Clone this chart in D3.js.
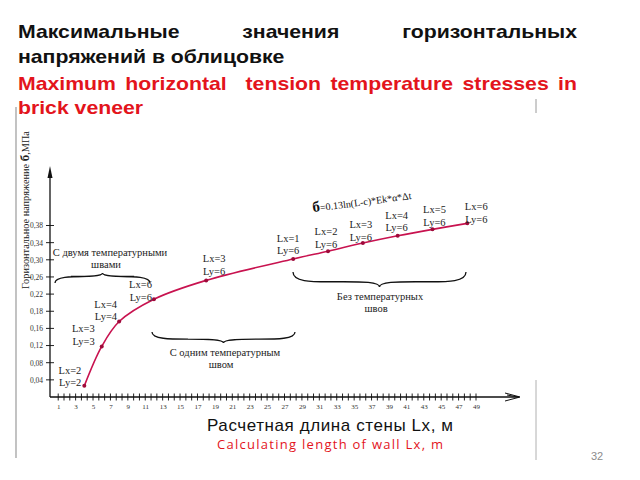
<!DOCTYPE html>
<html><head><meta charset="utf-8">
<script src="https://cdn.jsdelivr.net/npm/d3@7/dist/d3.min.js"></script>
<style>html,body{margin:0;padding:0;background:#fff}svg{display:block}</style>
</head><body>
<svg id="c" width="640" height="480"></svg>
<script>
// ---- data ----
const titleRu = ["Максимальные значения горизонтальных", "напряжений в облицовке"];
const titleEn = ["Maximum horizontal  tension temperature stresses in", "brick veneer"];
const xLabelRu = "Расчетная длина стены Lx, м";
const xLabelEn = "Calculating length of wall Lx, m";
const yLabel = "Горизонтальное напряжение ";
const yTickLabels = [0.04, 0.08, 0.12, 0.16, 0.18, 0.22, 0.26, 0.30, 0.34, 0.38];
const xTickLabels = d3.range(1, 50, 2);
const lengthL = [4, 6, 8, 12, 18, 28, 32, 36, 40, 44, 48];
const stress = [0.026, 0.118, 0.168, 0.208, 0.252, 0.302, 0.320, 0.339, 0.356, 0.371, 0.385];
const lx = [2, 3, 4, 6, 3, 1, 2, 3, 4, 5, 6];
const ly = [2, 3, 4, 6, 6, 6, 6, 6, 6, 6, 6];
const braceTexts = [["С двумя температурными", "швами"], ["С одним температурным", "швом"], ["Без температурных", "швов"]];
const formula = "=0.13ln(L-c)*Ek*α*Δt";
const pageNo = "32";

// ---- layout ----
const svg = d3.select("#c");
const serif = "'Liberation Serif','Times New Roman',serif";
const sans = "'Liberation Sans',Arial,sans-serif";
const x0 = 50, y0 = 397, step = 17.15;
const x = d3.scaleLinear().domain([0, 49]).range([49.5, 476]);
const y = d3.scaleLinear()
  .domain([0].concat(yTickLabels))
  .range(d3.range(0, 11).map(k => y0 - k * step));

// page borders of embedded image
svg.append("line").attr("x1",16).attr("x2",16).attr("y1",107).attr("y2",458).attr("stroke","#9a9a9a").attr("stroke-width",1.2);
svg.append("line").attr("x1",536).attr("x2",536).attr("y1",380).attr("y2",460).attr("stroke","#b0b0b0").attr("stroke-width",1);
svg.append("line").attr("x1",536).attr("x2",536).attr("y1",99).attr("y2",113).attr("stroke","#9a9a9a").attr("stroke-width",1);

// title block (font horizontally widened to match reference)
const sx = 1.18, tl = 18, tr = 577;
const tg = svg.append("g").attr("transform", `translate(${tl},0) scale(${sx},1)`);
function addWord(w, xl, yb, color) {
  return tg.append("text").attr("x", xl).attr("y", yb).attr("font-family", sans).attr("font-weight", "bold")
    .attr("font-size", 18).attr("fill", color).text(w);
}
function justified(str, yb, color) {
  const words = str.split(" ");
  const ts = words.map(w => addWord(w, 0, yb, color));
  const widths = ts.map(t => t.text() ? t.node().getComputedTextLength() : 0);
  const span = (tr - tl) / sx;
  const gap = (span - d3.sum(widths)) / (words.length - 1);
  let cx = 0;
  ts.forEach((t, i) => { t.attr("x", cx); cx += widths[i] + gap; });
}
justified(titleRu[0], 38, "#111");
addWord(titleRu[1], 0, 63, "#111");
justified(titleEn[0], 90, "#e3141c");
addWord(titleEn[1], 0, 114, "#e3141c");

// axes
const g = svg.append("g");
const yAxis = d3.axisLeft(y).tickValues(yTickLabels).tickSize(0).tickPadding(7)
  .tickFormat(d => d3.format(".2f")(d).replace(".", ","));
const ya = g.append("g").attr("transform", `translate(${x0},0)`).call(yAxis);
ya.select(".domain").remove();
ya.selectAll("text").attr("font-family", serif).attr("font-size", 7.5).attr("fill", "#333");
g.selectAll(".ytk").data(yTickLabels).join("line").attr("class","ytk")
  .attr("x1", x0 - 4).attr("x2", x0 + 4).attr("y1", d => y(d)).attr("y2", d => y(d))
  .attr("stroke", "#222").attr("stroke-width", 1);

const xa = g.append("g").attr("transform", `translate(0,${y0})`)
  .call(d3.axisBottom(x).tickValues(xTickLabels).tickSize(0).tickPadding(7).tickFormat(d3.format("d")));
xa.select(".domain").remove();
xa.selectAll("text").attr("font-family", serif).attr("font-size", 7).attr("fill", "#333");
const minor = d3.range(0, 73).map(k => 1 + k * 2 / 3);
g.selectAll(".xtk").data(minor).join("line").attr("class","xtk")
  .attr("x1", d => x(d)).attr("x2", d => x(d)).attr("y1", y0 - 3.5).attr("y2", y0 + 3.5)
  .attr("stroke", "#222").attr("stroke-width", 1);

// axis lines with arrows
g.append("line").attr("x1", x0).attr("x2", x0).attr("y1", y0).attr("y2", 172).attr("stroke", "#111").attr("stroke-width", 1.3);
g.append("path").attr("d", `M${x0},166 L${x0-2.5},178 L${x0+2.5},178 Z`).attr("fill", "#111");
g.append("line").attr("x1", x0).attr("x2", 519).attr("y1", y0).attr("y2", y0).attr("stroke", "#111").attr("stroke-width", 1.3);
g.append("path").attr("d", `M505,${y0-4} L520,${y0} L505,${y0+4} M507,${y0-2} L518,${y0}`).attr("fill", "none").attr("stroke", "#111").attr("stroke-width", 1);

// y label (rotated)
const yl = svg.append("text").attr("transform", "translate(29,210) rotate(-90)").attr("text-anchor", "middle")
  .attr("font-family", serif).attr("font-size", 10.3).attr("fill", "#222");
yl.append("tspan").text(yLabel);
yl.append("tspan").attr("font-weight", "bold").attr("font-size", 13).text("б");
yl.append("tspan").text(",МПа");

// curve
const pts = lengthL.map((d, i) => [x(d), y(stress[i])]);
svg.append("path").attr("d", d3.line().curve(d3.curveCatmullRom.alpha(0.5))(pts))
  .attr("fill", "none").attr("stroke", "#c8124f").attr("stroke-width", 1.6);
svg.selectAll(".pt").data(pts).join("circle").attr("class", "pt")
  .attr("cx", d => d[0]).attr("cy", d => d[1]).attr("r", 2).attr("fill", "#9e0a3a");

// point labels: [dx, dy, anchor]
const labelLayout = [[-3,-12,"end"],[-7,-14,"end"],[-2,-14,"end"],[-2,-11,"end"],
  [8,-18,"middle"],[-5,-17,"middle"],[-2,-16,"middle"],[-2,-15,"middle"],[-1,-17,"middle"],[2,-16,"middle"],[9,-13,"middle"]];
pts.forEach((p, i) => {
  const [dx, dy, an] = labelLayout[i];
  const t = svg.append("text").attr("font-family", serif).attr("font-size", 10.5).attr("fill", "#222").attr("text-anchor", an);
  t.append("tspan").attr("x", p[0] + dx).attr("y", p[1] + dy).text("Lx=" + lx[i]);
  t.append("tspan").attr("x", p[0] + dx).attr("y", p[1] + dy + 12.5).text("Ly=" + ly[i]);
});

// formula
const f = svg.append("text").attr("transform", "translate(313,212) rotate(-7.5)").attr("font-family", serif).attr("fill", "#111");
f.append("tspan").attr("font-size", 15).attr("font-weight", "bold").text("б");
f.append("tspan").attr("font-size", 10).text(formula);

// braces
function brace(x1, x2, yb, h) {
  const xm = (x1 + x2) / 2, w = Math.min(18, (x2 - x1) / 6), hh = h * 0.65;
  return `M${x1},${yb} C${x1},${yb+hh} ${x1+w},${yb+hh} ${x1+2*w},${yb+hh} L${xm-2*w},${yb+hh} C${xm-w},${yb+hh} ${xm},${yb+hh} ${xm},${yb+h}` +
         ` C${xm},${yb+hh} ${xm+w},${yb+hh} ${xm+2*w},${yb+hh} L${x2-2*w},${yb+hh} C${x2-w},${yb+hh} ${x2},${yb+hh} ${x2},${yb}`;
}
const bstyle = s => s.attr("fill", "none").attr("stroke", "#111").attr("stroke-width", 1.3);
svg.append("path").attr("d", brace(55, 150, 283, -10)).call(bstyle);
svg.append("path").attr("d", brace(152, 295, 332, 11)).call(bstyle);
svg.append("path").attr("d", brace(293, 466, 272, 15)).call(bstyle);

const btxt = (lines, cx, by) => {
  const t = svg.append("text").attr("font-family", serif).attr("font-size", 10.5).attr("fill", "#222").attr("text-anchor", "middle");
  t.append("tspan").attr("x", cx).attr("y", by).text(lines[0]);
  t.append("tspan").attr("x", cx - 4).attr("y", by + 12).text(lines[1]);
};
btxt(braceTexts[0], 110, 256);
btxt(braceTexts[1], 225, 356);
btxt(braceTexts[2], 380, 300);

// x titles
svg.append("text").attr("x", 207).attr("y", 431).attr("font-family", sans).attr("font-size", 17)
  .attr("fill", "#111").attr("textLength", 246).attr("lengthAdjust", "spacing").text(xLabelRu);
svg.append("text").attr("x", 217).attr("y", 449).attr("font-family", "'Open Sans','Noto Sans',sans-serif").attr("font-size", 13)
  .attr("fill", "#e3141c").attr("textLength", 226).attr("lengthAdjust", "spacing").text(xLabelEn);

svg.append("text").attr("x", 597).attr("y", 460).attr("text-anchor", "middle").attr("font-family", sans).attr("font-size", 11)
  .attr("fill", "#8c8c8c").text(pageNo);
</script>
</body></html>
